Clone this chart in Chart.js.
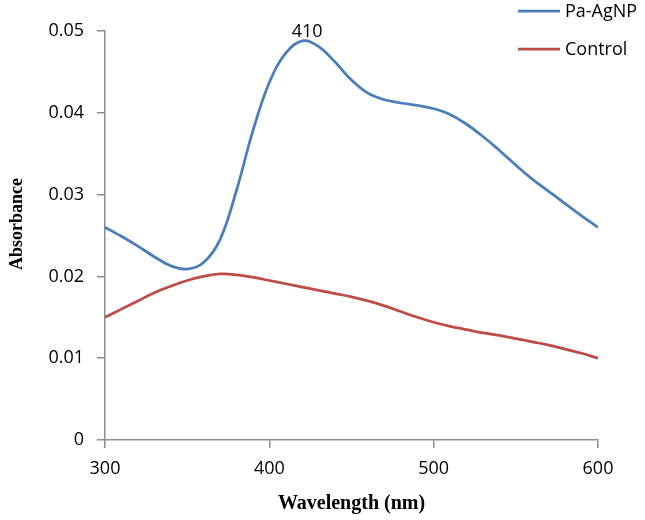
<!DOCTYPE html>
<html>
<head>
<meta charset="utf-8">
<script src="https://cdn.jsdelivr.net/npm/chart.js@4.4.1/dist/chart.umd.min.js"></script>
<style>
  html, body { margin: 0; padding: 0; background: #fff; }
  #wrap { width: 645px; height: 520px; }
</style>
</head>
<body>
<div id="wrap"><canvas id="uvChart" width="645" height="520"></canvas></div>
<script>
// wavelength (nm)
const wavelengths = [300, 310, 320, 330, 340, 350, 360, 370, 380, 390, 400, 410, 420, 430, 440, 450,
  460, 470, 480, 490, 500, 510, 520, 530, 540, 550, 560, 570, 580, 590, 600];

const agnp = [0.0260, 0.0249, 0.0237, 0.0224, 0.0213, 0.0209, 0.0217, 0.0245, 0.0305, 0.0378, 0.0437,
  0.0473, 0.0488, 0.0481, 0.0462, 0.0440, 0.0424, 0.0416, 0.0412, 0.0409, 0.0405, 0.0398, 0.0386,
  0.0371, 0.0354, 0.0336, 0.0319, 0.0304, 0.0289, 0.0274, 0.0260];

const control = [0.0150, 0.0160, 0.0170, 0.0180, 0.0188, 0.0195, 0.0200, 0.0203, 0.0202, 0.0199, 0.0195,
  0.0191, 0.0187, 0.0183, 0.0179, 0.0175, 0.0170, 0.0164, 0.0157, 0.0150, 0.0144, 0.0139, 0.0135,
  0.0131, 0.0128, 0.0124, 0.0120, 0.0116, 0.0111, 0.0106, 0.0100];

const xTicks = [300, 400, 500, 600];
const yTicks = [0, 0.01, 0.02, 0.03, 0.04, 0.05];
const peakLabel = "410";
const yTitle = "Absorbance";

const tickFont = { family: "Open Sans", size: 18 };
const titleFont = { family: "Liberation Serif", size: 20, weight: "bold" };
const axisGray = "#8c8c8c";

function toPoints(ys) {
  return wavelengths.map((x, i) => ({ x: x, y: ys[i] }));
}

// legend drawn in the top right corner, over the plot
const sideLegend = {
  id: "sideLegend",
  afterDraw(chart) {
    const ctx = chart.ctx;
    ctx.save();
    ctx.font = "18px 'Open Sans'";
    ctx.textBaseline = "middle";
    chart.data.datasets.forEach((ds, i) => {
      const y = 11 + i * 38;
      ctx.strokeStyle = ds.borderColor;
      ctx.lineWidth = 2.75;
      ctx.beginPath();
      ctx.moveTo(518, y);
      ctx.lineTo(560, y);
      ctx.stroke();
      ctx.fillStyle = "#000";
      ctx.fillText(ds.label, 565, y + 1);
    });
    ctx.restore();
  }
};

// peak label above the highest point of the first series, plus the y title
const extraText = {
  id: "extraText",
  afterDatasetsDraw(chart) {
    const ds = chart.data.datasets[0].data;
    let best = ds[0];
    ds.forEach(p => { if (p.y > best.y) best = p; });
    const px = chart.scales.x.getPixelForValue(best.x);
    const py = chart.scales.y.getPixelForValue(best.y);
    const ctx = chart.ctx;
    ctx.save();
    ctx.font = "18px 'Open Sans'";
    ctx.fillStyle = "#000";
    ctx.textAlign = "center";
    ctx.textBaseline = "alphabetic";
    ctx.fillText(peakLabel, px + 5, py - 4);

    ctx.translate(22, 224);
    ctx.rotate(-Math.PI / 2);
    ctx.font = "bold 18px 'Liberation Serif'";
    ctx.fillText(yTitle, 0, 0);
    ctx.restore();
  }
};

function initChart() {
  const ctx = document.getElementById("uvChart").getContext("2d");
  new Chart(ctx, {
    type: "line",
    data: {
      datasets: [
        {
          label: "Pa-AgNP",
          data: toPoints(agnp),
          borderColor: "#4a7ebb",
          borderWidth: 2.75,
          pointRadius: 0,
          tension: 0.4,
          fill: false
        },
        {
          label: "Control",
          data: toPoints(control),
          borderColor: "#be4b48",
          borderWidth: 2.75,
          pointRadius: 0,
          tension: 0.4,
          fill: false
        }
      ]
    },
    options: {
      responsive: false,
      animation: false,
      layout: { padding: { top: 31, right: 47, left: 0, bottom: 0 } },
      plugins: {
        legend: { display: false },
        tooltip: { enabled: false }
      },
      scales: {
        x: {
          type: "linear",
          min: 300,
          max: 600,
          afterBuildTicks: s => { s.ticks = xTicks.map(v => ({ value: v })); },
          afterFit: s => { s.height = 80; },
          grid: { drawOnChartArea: false, color: axisGray, tickLength: 8, lineWidth: 1.5 },
          border: { color: axisGray, width: 1.5 },
          ticks: { font: tickFont, color: "#000", padding: 10, maxRotation: 0 },
          title: { display: true, text: "Wavelength (nm)", font: titleFont, color: "#000", padding: { top: 0 } }
        },
        y: {
          min: 0,
          max: 0.05,
          afterBuildTicks: s => { s.ticks = yTicks.map(v => ({ value: v })); },
          afterFit: s => { s.width = 105; },
          grid: { drawOnChartArea: false, color: axisGray, tickLength: 8, lineWidth: 1.5 },
          border: { color: axisGray, width: 1.5 },
          ticks: {
            font: tickFont,
            color: "#000",
            padding: 13,
            callback: v => (v === 0 ? "0" : v.toFixed(2))
          }
        }
      }
    },
    plugins: [sideLegend, extraText]
  });
}

initChart();
</script>
</body>
</html>
